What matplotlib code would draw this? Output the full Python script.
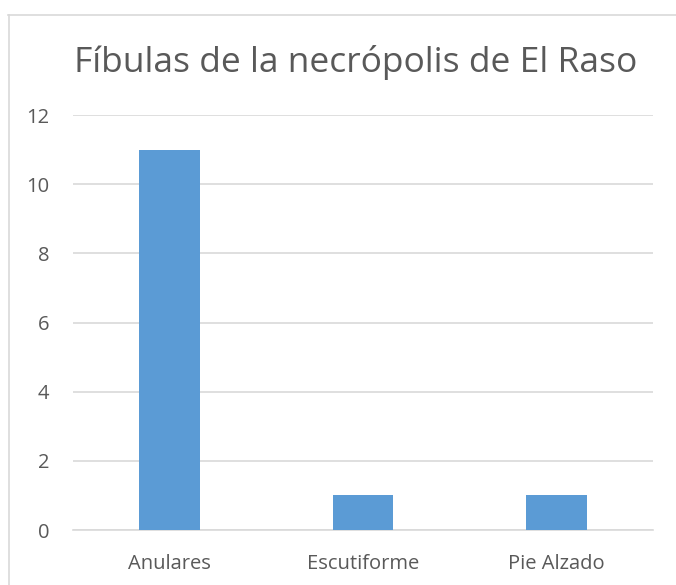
import matplotlib
matplotlib.use("Agg")
import matplotlib.pyplot as plt
from matplotlib.lines import Line2D

# fibula counts per type
categories = ["Anulares", "Escutiforme", "Pie Alzado"]
counts = [11, 1, 1]
yticks = [0, 2, 4, 6, 8, 10, 12]

plt.rcParams["font.family"] = ["Open Sans", "DejaVu Sans"]

W, H = 676, 585
fig = plt.figure(figsize=(W / 100, H / 100), dpi=100)
fig.patch.set_facecolor("white")

# chart frame (left and top edges only)
fig.add_artist(Line2D([8.5 / W, 8.5 / W], [0, (H - 15) / H], transform=fig.transFigure,
                      color="#d9d9d9", lw=1.2))
fig.add_artist(Line2D([8 / W, 1], [(H - 15) / H, (H - 15) / H], transform=fig.transFigure,
                      color="#d9d9d9", lw=1.2))

ax = fig.add_axes([73 / W, (H - 530) / H, 580 / W, 415 / H])
x = list(range(len(categories)))
ax.bar(x, counts, width=0.315, color="#5b9bd5", zorder=3)

ax.set_xlim(-0.5, len(categories) - 0.5)
ax.set_ylim(0, 12)
ax.set_yticks(yticks)
ax.set_xticks(x)
ax.set_xticklabels(categories)
ax.tick_params(axis="both", length=0, labelsize=14.5, colors="#595959")
ax.tick_params(axis="y", pad=17)
ax.tick_params(axis="x", pad=17)
ax.grid(axis="y", color="#d9d9d9", lw=1.2, zorder=0)
for s in ["top", "right", "left"]:
    ax.spines[s].set_visible(False)
ax.spines["bottom"].set_color("#d9d9d9")
ax.spines["bottom"].set_linewidth(1.2)

fig.text(356 / W, (H - 62) / H, "Fíbulas de la necrópolis de El Raso",
         ha="center", va="center", fontsize=25.5, color="#595959")

fig.savefig("out.png", dpi=100)
